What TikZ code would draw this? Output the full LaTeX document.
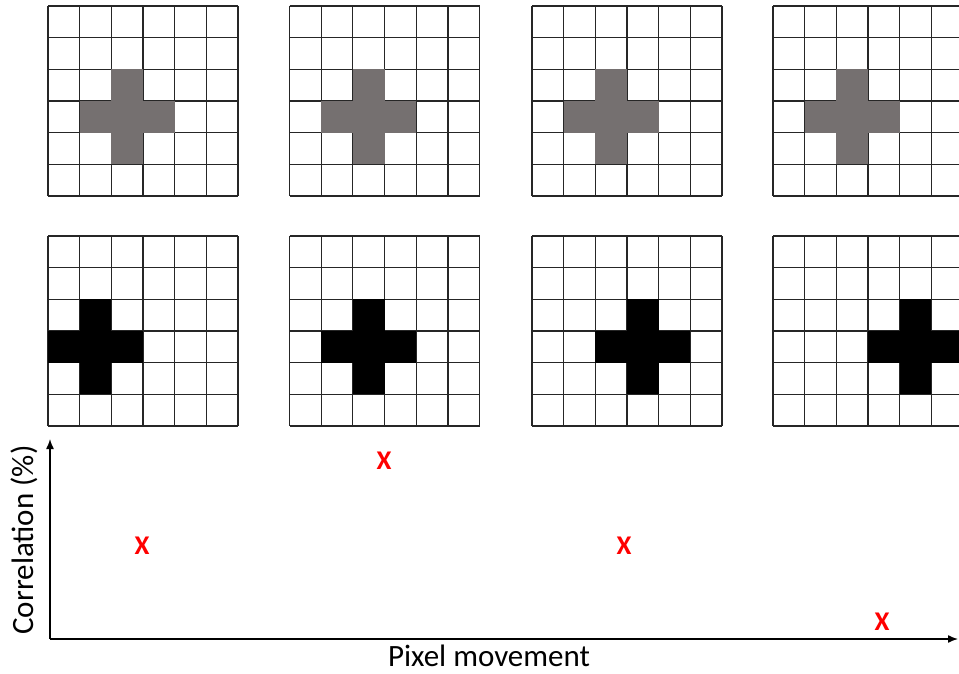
\documentclass[tikz,border=0pt]{standalone}
\usepackage{fontspec}
\setmainfont{Carlito}
\usetikzlibrary{arrows.meta}
\definecolor{crossgrey}{RGB}{117,112,112}
\definecolor{hitred}{RGB}{255,0,0}

\begin{document}
\begin{tikzpicture}[x=1pt,y=-1pt,>={Latex[length=10pt,width=8pt]},
    cell/.style={line width=1.3pt,black!85},
    axis/.style={line width=1.4pt,black},
    hit/.style={text=hitred,font=\fontsize{27}{32}\selectfont\bfseries,inner sep=0pt},
    axlabel/.style={font=\fontsize{31}{36}\selectfont,inner sep=0pt}]
  \useasboundingbox (0,0) rectangle (959,674);
  \clip (0,0) rectangle (959,674);
  \def\c{31.67}
  % top and bottom rows of 6x6 grids
  \foreach \gx/\cc in {48/1,289.5/2,532/3,773/4} {
    \foreach \gy in {6,236} {
      \foreach \i in {0,...,6} {
        \draw[cell] ({\gx+\i*\c},\gy) -- ++(0,{6*\c});
        \draw[cell] (\gx,{\gy+\i*\c}) -- ++({6*\c},0);
      }
    }
    % grey cross, always in the same place
    \fill[crossgrey] ({\gx+2*\c},{6+2*\c}) rectangle ++(\c,{3*\c});
    \fill[crossgrey] ({\gx+\c},{6+3*\c}) rectangle ++({3*\c},\c);
    % black cross, moved one cell each time
    \fill[black] ({\gx+\cc*\c},{236+2*\c}) rectangle ++(\c,{3*\c});
    \fill[black] ({\gx+(\cc-1)*\c},{236+3*\c}) rectangle ++({3*\c},\c);
  }

  % plot
  \coordinate (o) at (50,639);
  \coordinate (ytip) at (50,439);
  \coordinate (xtip) at (958,639);
  \draw[axis,->] (o) -- (ytip);
  \draw[axis,->] (o) -- (xtip);
  \node[axlabel,rotate=90] (ylab) at (24,540) {Correlation (\%)};
  \node[axlabel] (xlab) at (489,656) {Pixel movement};
  \node[hit] (h1) at (142,546) {X};
  \node[hit] (h2) at (384,461) {X};
  \node[hit] (h3) at (624,546) {X};
  \node[hit] (h4) at (882,622) {X};
\end{tikzpicture}
\end{document}
